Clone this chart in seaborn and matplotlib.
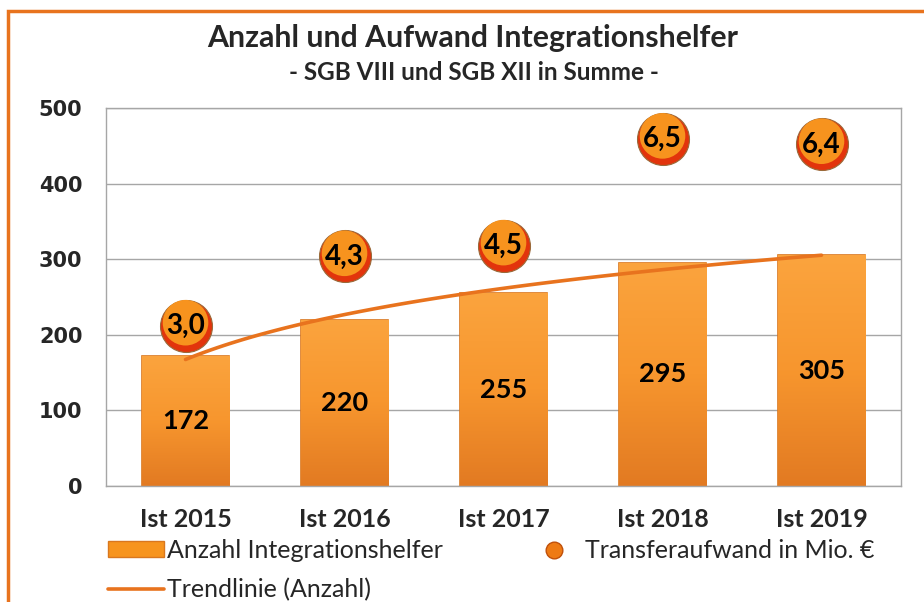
import numpy as np
import matplotlib
matplotlib.use("Agg")
import matplotlib.pyplot as plt
from matplotlib.path import Path
from matplotlib.patches import Rectangle
from matplotlib.lines import Line2D
from matplotlib.colors import LinearSegmentedColormap
import seaborn as sns

# data
years = ["Ist 2015", "Ist 2016", "Ist 2017", "Ist 2018", "Ist 2019"]
anzahl = [172, 220, 255, 295, 305]
aufwand = [3.0, 4.3, 4.5, 6.5, 6.4]

sns.set_style("white")
plt.rcParams["font.family"] = ["Lato", "DejaVu Sans"]

ORANGE = "#F7941D"
DARK = "#D9771E"
LINE = "#E8731E"
GRID = "#A6A6A6"

fig = plt.figure(figsize=(9.24, 6.02), dpi=100)
ax = fig.add_axes([106 / 924, 1 - 486 / 602, 795 / 924, 378 / 602])

sns.barplot(x=years, y=anzahl, ax=ax, color=ORANGE, width=0.55,
            edgecolor=DARK, linewidth=1.2, saturation=1, zorder=2)

# shading inside the bars
shade = LinearSegmentedColormap.from_list("shade", ["#E27A22", "#F7962E", "#FBA43E"])
grad = np.linspace(0, 1, 256).reshape(-1, 1)
for bar in ax.patches:
    x0, y0 = bar.get_x(), bar.get_y()
    im = ax.imshow(grad, cmap=shade, origin="lower", aspect="auto", zorder=2.5,
                   extent=[x0, x0 + bar.get_width(), y0, y0 + bar.get_height()])
    im.set_clip_path(bar)

ax.bar_label(ax.containers[0], label_type="center", fontsize=19.5,
             fontweight="bold", color="black")
for t in ax.texts:
    t.set_zorder(3)

# logarithmic trend line
pos = np.arange(len(years))
k, d = np.polyfit(np.log(pos + 1), anzahl, 1)
xs = np.linspace(0, len(years) - 1, 100)
ax.plot(xs, k * np.log(xs + 1) + d, color=LINE, lw=2.6, zorder=3)

ax.set_ylim(0, 500)
ax.set_xlim(-0.5, len(years) - 0.5)
ax.set_yticks(range(0, 501, 100))
ax.yaxis.grid(True, color=GRID, lw=1)
ax.set_axisbelow(True)
for s in ax.spines.values():
    s.set_color(GRID)
    s.set_linewidth(1)
ax.tick_params(axis="y", length=0, pad=17)
ax.tick_params(axis="x", length=0, pad=16)
for t in ax.get_yticklabels():
    t.set_fontfamily("DejaVu Sans")
    t.set_fontweight("bold")
    t.set_fontsize(15)
for t in ax.get_xticklabels():
    t.set_fontweight("bold")
    t.set_fontsize(18)
ax.set_xlabel("")
ax.set_ylabel("")

# circles on hidden secondary scale
ax2 = ax.twinx()
ax2.set_ylim(0, 500 / 70.6)
ax2.set_xlim(-0.5, len(years) - 0.5)
ax2.axis("off")
top = Path.circle((0, 0.12), 0.86)
sns.scatterplot(x=pos, y=aufwand, ax=ax2, s=1400, color="#E2340C",
                edgecolor="#9A6A3A", linewidth=0.8, zorder=4, legend=False)
sns.scatterplot(x=pos, y=aufwand, ax=ax2, s=1400, marker=top, color="#F7931E",
                edgecolor="none", linewidth=0, zorder=5, legend=False)
for x, v in zip(pos, aufwand):
    ax2.text(x, v, f"{v:.1f}".replace(".", ","), ha="center", va="center",
             fontsize=20, fontweight="bold", color="black", zorder=6)

# titles
fig.text(473 / 924, 1 - 38 / 602, "Anzahl und Aufwand Integrationshelfer",
         ha="center", va="center", fontsize=21.8, fontweight="bold")
fig.text(474 / 924, 1 - 73 / 602, "- SGB VIII und SGB XII in Summe -",
         ha="center", va="center", fontsize=17.5, fontweight="bold")

# legend
h_bar = Rectangle((0, 0), 1, 1, facecolor=ORANGE, edgecolor=DARK)
h_line = Line2D([], [], color=LINE, lw=2.6)
h_dot = Line2D([], [], ls="", marker="o", markersize=12,
               markerfacecolor="#EE7A14", markeredgecolor="#C0500A")
fig.legend([h_bar, h_line, h_dot],
           ["Anzahl Integrationshelfer", "Trendlinie (Anzahl)", "Transferaufwand in Mio. €"],
           ncol=2, loc="upper left", bbox_to_anchor=(108 / 924, 1 - 539 / 602),
           frameon=False, fontsize=18, handlelength=2.25, handleheight=0.6,
           handletextpad=0.12, columnspacing=3.3, labelspacing=0.65,
           borderpad=0, borderaxespad=0)

# outer frame
fig.patches.append(Rectangle((8 / 924, -0.2), 1.3, 1.2 - 11 / 602, transform=fig.transFigure,
                             fill=False, edgecolor=LINE, lw=2.5, zorder=0))

fig.savefig("out.png", dpi=100)
